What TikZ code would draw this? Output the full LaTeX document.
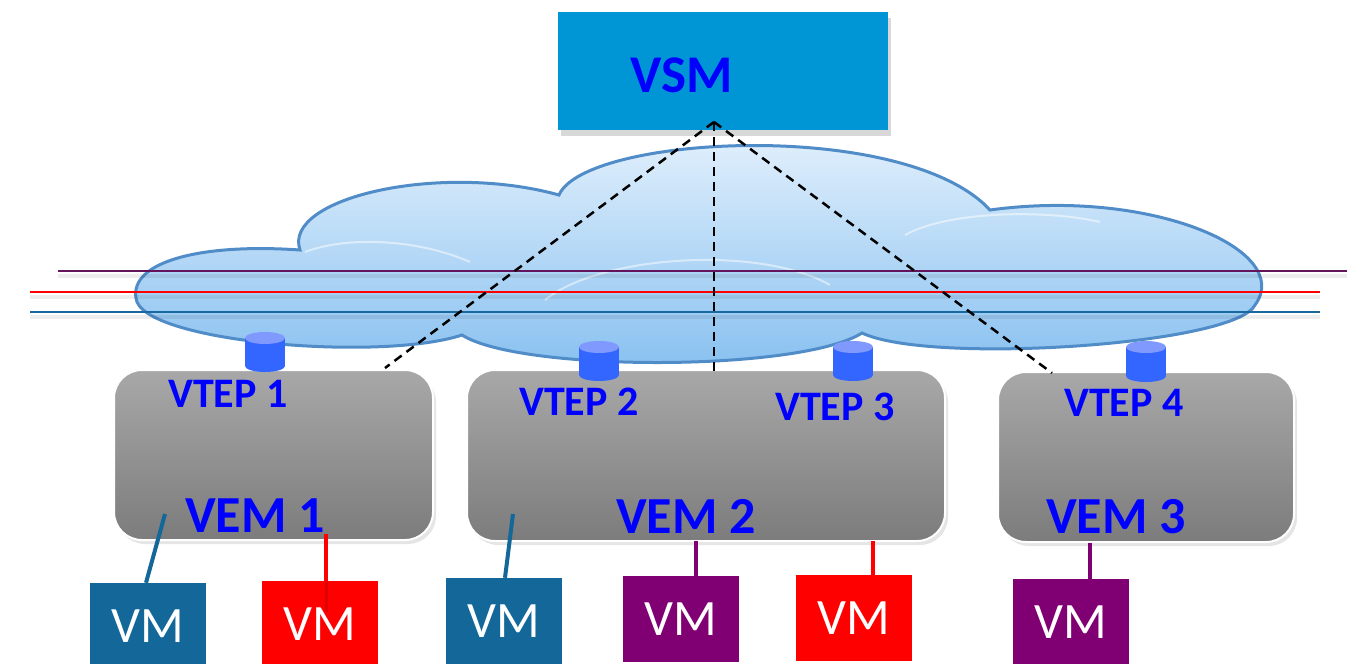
\documentclass[tikz,border=0pt]{standalone}
\usepackage{fontspec}
\setmainfont{Carlito}
\usetikzlibrary{shadows}

\definecolor{vsmblue}{RGB}{0,150,214}
\definecolor{txtblue}{RGB}{0,0,255}
\definecolor{vmblue}{RGB}{19,104,153}
\definecolor{vmred}{RGB}{255,0,0}
\definecolor{vmpurple}{RGB}{128,0,115}
\definecolor{linepurple}{RGB}{100,20,90}
\definecolor{lineblue}{RGB}{25,105,160}
\definecolor{cylbody}{RGB}{51,102,255}
\definecolor{cyltop}{RGB}{128,153,255}
\definecolor{cloudedge}{RGB}{80,140,200}
\definecolor{cloudlow}{RGB}{135,192,240}
\definecolor{cloudhigh}{RGB}{232,243,253}
\definecolor{gtop}{RGB}{168,168,168}
\definecolor{gbot}{RGB}{124,124,124}

\tikzset{
  vsmbox/.style={fill=vsmblue, inner sep=0pt, minimum width=330pt, minimum height=118pt,
    drop shadow={opacity=0.3, shadow xshift=3pt, shadow yshift=-6pt}},
  vembox/.style={draw=white, line width=2pt, rounded corners=28pt, top color=gtop,
    bottom color=gbot, inner sep=0pt,
    drop shadow={opacity=0.2, shadow xshift=3pt, shadow yshift=-4pt}},
  vmbox/.style={inner sep=0pt, minimum width=116pt, minimum height=86pt, text=white,
    font=\fontsize{51}{51}\selectfont},
  boldlabel/.style={inner sep=0pt, text=txtblue, anchor=base, font=\bfseries\fontsize{#1}{#1}\selectfont},
  ctrlink/.style={black, line width=2.5pt, dash pattern=on 9pt off 6pt},
  overlay line/.style={line width=2.4pt},
  line shade/.style={black, opacity=0.07, line width=4pt},
  vmlink/.style={line width=4pt},
}

\newcommand{\vtepcyl}[3]{% centre x, top y, bottom y
  \fill[cylbody] (#1-20,#2) rectangle (#1+20,#3);
  \fill[cylbody] (#1,#3) ellipse [x radius=20pt, y radius=6pt];
  \fill[cyltop] (#1,#2) ellipse [x radius=20pt, y radius=6pt];
}

\begin{document}
\begin{tikzpicture}[x=1pt, y=-1pt]
  \useasboundingbox[fill=white] (0,0) rectangle (1353,664);

  % overlay cloud
  \path[top color=cloudhigh, bottom color=cloudlow, draw=cloudedge, line width=3pt]
    (136,298)
    .. controls (130,262) and (200,243) .. (300,250)
    .. controls (282,198) and (440,162) .. (559,195)
    .. controls (585,135) and (905,118) .. (990,210)
    .. controls (1150,188) and (1295,250) .. (1255,305)
    .. controls (1235,345) and (930,365) .. (862,333)
    .. controls (800,372) and (520,372) .. (462,335)
    .. controls (380,362) and (140,342) .. (136,298) -- cycle;
  % faint inner lobes
  \begin{scope}[white, opacity=0.5, line width=2pt]
    \draw (305,252) .. controls (350,235) and (420,240) .. (470,262);
    \draw (545,300) .. controls (600,255) and (760,245) .. (830,285);
    \draw (905,235) .. controls (950,210) and (1050,210) .. (1100,222);
  \end{scope}

  % segment lines across the overlay
  \draw[line shade] (58,276) -- (1347,276);
  \draw[line shade] (30,297) -- (1320,297);
  \draw[line shade] (30,317) -- (1320,317);
  \draw[overlay line, linepurple] (58,271) -- (1347,271);
  \draw[overlay line, vmred] (30,292) -- (1320,292);
  \draw[overlay line, lineblue] (30,312) -- (1320,312);

  % supervisor module
  \node[vsmbox] (vsm) at (723,71) {};
  \node[boldlabel=53] (vsmtext) at (682,92) {VSM};

  % ethernet modules
  \node[vembox, minimum width=319pt, minimum height=170pt] (vem1) at (273.5,455) {};
  \node[vembox, minimum width=478pt, minimum height=171pt] (vem2) at (706,455.5) {};
  \node[vembox, minimum width=296pt, minimum height=170pt] (vem3) at (1146,457) {};

  % control links from the VSM
  \coordinate (apex) at (714,122);
  \coordinate (c1) at (385,368);
  \coordinate (c2) at (714,373);
  \coordinate (c3) at (1052,373);
  \draw[ctrlink] (apex) -- (c1);
  \draw[ctrlink] (apex) -- (c2);
  \draw[ctrlink] (apex) -- (c3);

  % tunnel end points
  \vtepcyl{265}{338}{366}
  \vtepcyl{599}{347}{375}
  \vtepcyl{853}{347}{375}
  \vtepcyl{1146}{347}{376}

  \node[boldlabel=42] (t1) at (228,407) {VTEP 1};
  \node[boldlabel=42] (t2) at (579,415) {VTEP 2};
  \node[boldlabel=42] (t3) at (835,420) {VTEP 3};
  \node[boldlabel=42] (t4) at (1124,416) {VTEP 4};

  \node[boldlabel=52] (l1) at (255,532) {VEM 1};
  \node[boldlabel=52] (l2) at (686,533) {VEM 2};
  \node[boldlabel=52] (l3) at (1116,533) {VEM 3};

  % virtual machines
  \node[vmbox, fill=vmblue]   (vm1) at (147.5,626) {VM};
  \node[vmbox, fill=vmred]    (vm2) at (320,624)   {VM};
  \node[vmbox, fill=vmblue]   (vm3) at (504,621)   {VM};
  \node[vmbox, fill=vmpurple] (vm4) at (681,619)   {VM};
  \node[vmbox, fill=vmred]    (vm5) at (854,618)   {VM};
  \node[vmbox, fill=vmpurple] (vm6) at (1071,622)  {VM};

  % VM attachments
  \coordinate (a1) at (165,514);
  \coordinate (a2) at (326,534);
  \coordinate (a3) at (513,514);
  \coordinate (a4) at (696,541);
  \coordinate (a5) at (873,541);
  \coordinate (a6) at (1090,543);
  \coordinate (a2end) at (326,612);
  \draw[vmlink, vmblue] (a1) -- (vm1.north -| 146,0);
  \draw[vmlink, vmred] (a2) -- (a2 |- vm2.north);
  \draw[vmlink, vmred!88!black, line width=3pt] (a2 |- vm2.north) -- (a2end);
  \draw[vmlink, vmblue] (a3) -- (vm3.north -| 505,0);
  \draw[vmlink, vmpurple] (a4) -- (a4 |- vm4.north);
  \draw[vmlink, vmred] (a5) -- (a5 |- vm5.north);
  \draw[vmlink, vmpurple] (a6) -- (a6 |- vm6.north);
\end{tikzpicture}
\end{document}
